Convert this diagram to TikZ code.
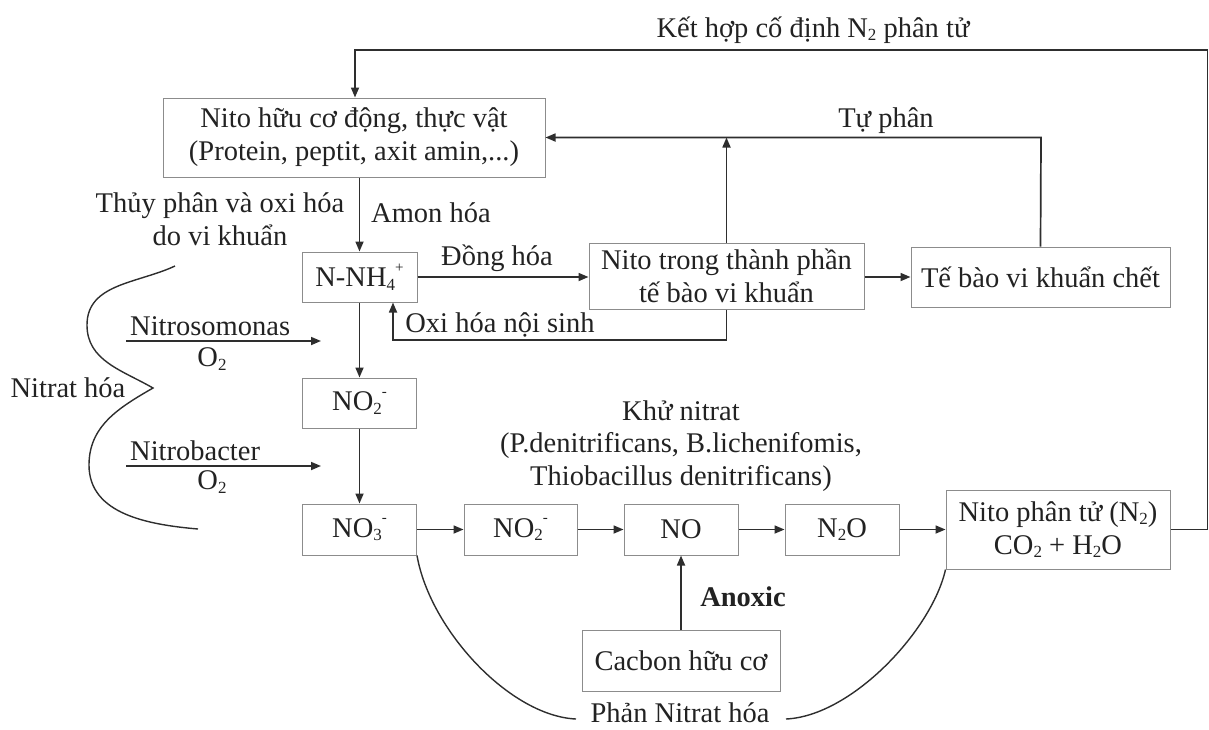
\documentclass[tikz,border=0pt]{standalone}
\usepackage{fontspec}
\setmainfont{Liberation Serif}
\usetikzlibrary{arrows.meta}
\definecolor{linec}{HTML}{2E2E2E}
\definecolor{boxc}{HTML}{8C8C8C}
\definecolor{txt}{HTML}{222222}
\newcommand{\sbs}[1]{\raisebox{-0.25ex}{\fontsize{17}{17}\selectfont #1}}
\newcommand{\sps}[1]{\raisebox{1.1ex}{\fontsize{15}{15}\selectfont #1}}
\begin{document}
\begin{tikzpicture}[x=1pt,y=-1pt,
  every node/.style={font=\fontsize{28.5}{33}\selectfont, text=txt, inner sep=0pt},
  box/.style 2 args={draw=boxc, line width=1pt, minimum width=#1, minimum height=#2, align=center},
  conn/.style={draw=linec, line width=1.7pt},
  arr/.style={conn, -{Triangle[length=10pt,width=8pt]}},
  curve/.style={draw=linec, line width=1.4pt}]
\useasboundingbox (0,0) rectangle (1209,729);
% boxes
\node[box={382}{79}] (org) at (354,137.5) {Nito hữu cơ động, thực vật\\(Protein, peptit, axit amin,...)};
\node[box={115}{50}] (nh4) at (359.5,277) {N-NH\sbs{4}\sps{+}};
\node[box={114}{50}] (no2a) at (359.5,403) {NO\sbs{2}\sps{-}};
\node[box={114}{51}] (no3) at (359.5,529.5) {NO\sbs{3}\sps{-}};
\node[box={113}{51}] (no2b) at (520.5,529.5) {NO\sbs{2}\sps{-}};
\node[box={114}{51}] (no) at (681,529.5) {NO};
\node[box={114}{51}] (n2o) at (842,529.5) {N\sbs{2}O};
\node[box={224}{79}] (n2) at (1058,529.5) {Nito phân tử (N\sbs{2})\\CO\sbs{2} + H\sbs{2}O};
\node[box={275}{66}] (cell) at (726.5,276) {Nito trong thành phần\\tế bào vi khuẩn};
\node[box={259}{60}] (dead) at (1040.5,277) {Tế bào vi khuẩn chết};
\node[box={198}{61}] (carb) at (681,660.5) {Cacbon hữu cơ};
% labels
\node (lfix) at (813,30) {Kết hợp cố định N\sbs{2} phân tử};
\node (ltu) at (886,121) {Tự phân};
\node[align=center] (lthuy) at (220,219) {Thủy phân và oxi hóa\\do vi khuẩn};
\node[anchor=west] (lamon) at (371,213) {Amon hóa};
\node (ldong) at (497,258) {Đồng hóa};
\node (loxi) at (500,325) {Oxi hóa nội sinh};
\node[anchor=west] (lnso) at (130,326) {Nitrosomonas};
\node (lo2a) at (212,359) {O\sbs{2}};
\node[anchor=west] (lnbt) at (130,451) {Nitrobacter};
\node (lo2b) at (212,482) {O\sbs{2}};
\node (lnit) at (68,388) {Nitrat hóa};
\node[align=center, font=\fontsize{28.5}{32.5}\selectfont] (lkhu) at (681,446) {Khử nitrat\\(P.denitrificans, B.lichenifomis,\\Thiobacillus denitrificans)};
\node[font=\fontsize{28.5}{33}\selectfont\bfseries] (lanox) at (743,597) {Anoxic};
\node (lphan) at (680,713) {Phản Nitrat hóa};
% coordinates
\coordinate (rt) at (1207.5,50);
\coordinate (rb) at (1207.5,529.5);
\coordinate (tl) at (355,50);
\coordinate (tp) at (1041,137.5);
\coordinate (ol) at (393,340);
\coordinate (a1s) at (126,341);
\coordinate (a1e) at (321,341);
\coordinate (a2s) at (126,466);
\coordinate (a2e) at (321,466);
\coordinate (c1e) at (576,719);
\coordinate (c2s) at (786,719);
% connectors
\draw[arr] (n2.east) -- (rb) -- (rt) -- (tl) -- (tl |- org.north);
\draw[arr] (org.south -| nh4.center) -- (nh4.north);
\draw[arr] (nh4.east) -- (nh4.east -| cell.west);
\draw[arr] (cell.east |- dead.west) -- (dead.west);
\draw[arr] (dead.north) -- (tp) -- (org.east);
\draw[arr] (cell.north) -- (cell.north |- tp);
\draw[arr] (cell.south) -- (cell.south |- ol) -- (ol) -- (ol |- nh4.south);
\draw[arr] (nh4.south) -- (no2a.north);
\draw[arr] (no2a.south) -- (no3.north);
\draw[arr] (a1s) -- (a1e);
\draw[arr] (a2s) -- (a2e);
\draw[arr] (no3.east) -- (no2b.west);
\draw[arr] (no2b.east) -- (no.west);
\draw[arr] (no.east) -- (n2o.west);
\draw[arr] (n2o.east) -- (n2.west);
\draw[arr] (carb.north) -- (no.south);
% curves
\draw[curve] (no3.south east) .. controls (430,630) and (510,716) .. (c1e);
\draw[curve] (c2s) .. controls (852,716) and (932,630) .. (n2.south west);
\draw[curve] (175,266) to[out=205,in=90] (87,325) to[out=-90,in=150] (153,388)
  to[out=210,in=90] (89,465) to[out=-90,in=175] (198,529);
\end{tikzpicture}
\end{document}
